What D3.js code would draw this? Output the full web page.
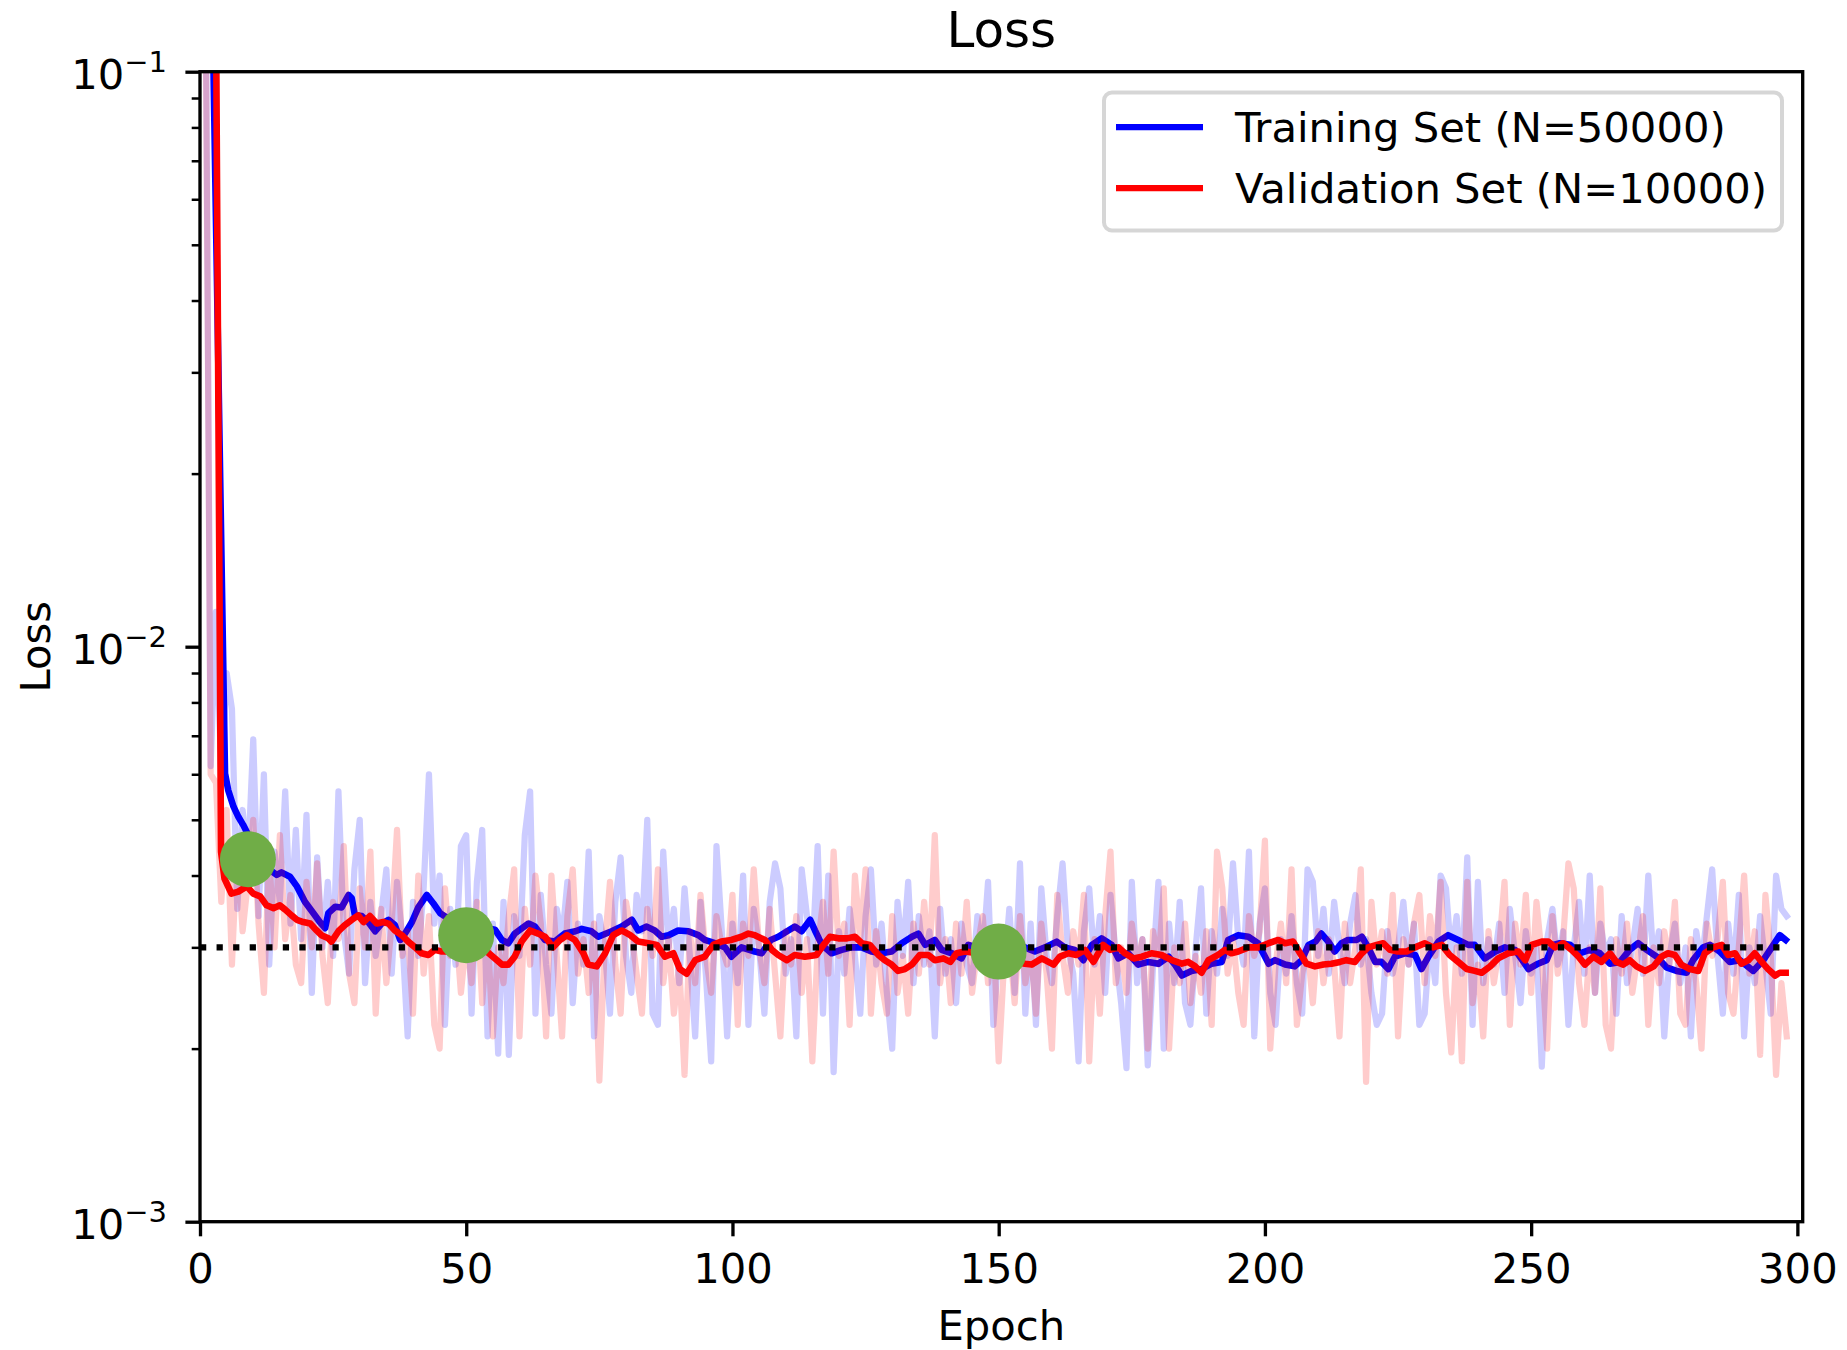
<!DOCTYPE html>
<html>
<head>
<meta charset="utf-8">
<script src="https://cdn.jsdelivr.net/npm/d3@7"></script>
<style>
  html, body { margin: 0; padding: 0; background: #fff; }
  svg { display: block; }
  text { font-family: "DejaVu Sans", sans-serif; fill: #000; }
</style>
</head>
<body>
<svg id="chart" width="1847" height="1350"></svg>
<script>
// ---- data (loss values are in units of 1e-3) ----
const trainRaw = [
  900, 180, 6.2, 11.5, 6.0, 9.0, 7.8, 3.5, 5.2, 4.2,
  6.9, 3.4, 6.0, 2.8, 4.4, 3.6, 5.6, 3.3, 4.8, 3.1,
  5.1, 2.5, 4.3, 3.0, 3.9, 2.9, 5.6, 3.2, 2.7, 4.1,
  5.0, 2.6, 3.6, 2.9, 3.4, 4.1, 2.7, 3.9, 3.1, 2.1,
  3.6, 2.9, 3.8, 6.0, 3.3, 4.0, 2.2, 3.5, 2.8, 4.5,
  4.7, 2.3, 3.9, 4.8, 2.1, 3.3, 1.96, 3.6, 1.95, 3.4,
  2.9, 4.7, 5.6, 2.3, 3.7, 2.8, 2.3, 3.5, 3.1, 3.9,
  2.4, 3.3, 2.8, 4.4, 2.1, 3.4, 3.0, 2.3, 3.6, 4.3,
  2.9, 2.5, 3.7, 3.2, 5.0, 2.3, 2.2, 4.4, 3.0, 3.5,
  2.6, 3.8, 2.9, 2.1, 3.6, 2.7, 1.9, 4.5, 3.2, 2.1,
  3.3, 2.6, 4.0, 2.2, 3.5, 3.0, 2.3, 3.6, 4.2, 3.8,
  2.7, 3.1, 2.1, 4.1, 3.4, 2.9, 4.5, 2.3, 4.0, 1.82,
  3.2, 2.7, 3.5, 2.9, 2.3, 3.4, 4.1, 2.8, 3.3, 2.5,
  2.0, 3.6, 2.9, 3.9, 2.6, 3.4, 2.8, 3.2, 2.1, 3.5,
  2.7, 3.1, 2.4, 3.3, 2.8, 2.6, 3.4, 2.9, 3.9, 2.2,
  3.0, 2.7, 3.5, 2.5, 4.2, 2.3, 3.3, 2.2, 3.8, 2.9,
  2.6, 3.4, 4.2, 3.0, 2.7, 1.9, 3.2, 3.8, 2.8, 3.4,
  2.5, 3.7, 2.9, 2.4, 1.85, 3.9, 2.6, 3.1, 1.87, 2.8,
  3.9, 2.0, 3.3, 2.6, 3.6, 2.4, 2.2, 3.0, 3.8, 2.3,
  3.2, 2.7, 3.5, 2.9, 4.2, 3.1, 2.8, 4.4, 2.1, 3.3,
  3.8, 2.5, 2.2, 3.1, 2.7, 3.4, 2.6, 2.3, 4.1, 3.9,
  2.9, 3.5, 2.7, 3.6, 3.0, 2.6, 3.3, 3.7, 2.8, 3.1,
  2.5, 2.2, 2.3, 3.2, 2.7, 3.0, 3.6, 2.8, 3.3, 2.2,
  2.3, 3.1, 2.6, 4.0, 3.8, 2.9, 3.4, 2.7, 4.3, 2.2,
  3.9, 2.6, 3.1, 2.8, 3.3, 2.5, 3.5, 2.9, 2.4, 3.2,
  2.7, 3.0, 1.86, 3.1, 3.5, 2.8, 3.2, 2.2, 3.0, 3.6,
  2.7, 4.0, 2.5, 3.3, 2.9, 3.1, 2.3, 3.4, 2.6, 3.0,
  3.5, 2.7, 4.0, 2.8, 3.2, 2.1, 2.9, 3.3, 2.6, 3.0,
  2.1, 3.2, 2.8, 3.4, 4.1, 2.9, 2.3, 3.3, 2.7, 3.7,
  2.1, 3.0, 2.6, 3.4, 2.8, 2.3, 4.0, 3.5, 3.4
];

const valRaw = [
  900, 160, 6.0, 5.8, 3.6, 5.2, 2.8, 4.6, 3.2, 3.9,
  5.0, 3.3, 2.5, 4.3, 3.0, 4.7, 3.1, 3.7, 2.8, 2.6,
  3.9, 3.0, 4.2, 2.9, 2.4, 3.6, 3.1, 4.5, 2.7, 2.4,
  3.8, 3.0, 4.4, 2.3, 3.5, 2.6, 3.3, 4.8, 2.9, 3.2,
  2.3, 4.0, 2.7, 3.4, 2.2, 2.0, 3.8, 2.9, 3.3, 2.5,
  3.1, 2.6, 3.6, 2.4, 3.2, 2.1, 3.0, 2.6, 3.4, 4.1,
  2.1, 3.5, 2.8, 4.0, 3.3, 2.1, 4.0, 2.9, 2.1, 3.4,
  4.1, 2.7, 3.1, 2.5, 3.3, 1.76, 3.0, 3.9, 2.8, 2.3,
  3.6, 3.2, 2.7, 2.3, 3.5, 2.9, 4.1, 2.6, 3.1, 2.3,
  2.8, 1.8, 3.2, 2.6, 3.7, 2.9, 2.5, 3.4, 3.0, 2.8,
  3.7, 2.2, 3.3, 2.9, 4.1, 3.0, 2.6, 3.5, 2.7, 2.1,
  3.2, 2.8, 3.4, 2.5, 3.1, 1.9, 3.0, 3.6, 2.7, 4.4,
  2.9, 3.3, 2.2, 4.0, 3.1, 4.1, 2.3, 3.2, 2.6, 2.3,
  3.4, 2.5, 2.9, 2.3, 3.3, 2.7, 3.6, 2.8, 4.7, 2.6,
  3.1, 2.4, 3.3, 2.7, 3.6, 2.5, 3.0, 3.4, 2.6, 3.2,
  1.9, 2.8, 3.1, 2.4, 3.4, 2.6, 3.0, 2.3, 3.3, 2.7,
  2.0, 3.7, 2.9, 2.5, 3.2, 2.8, 3.7, 1.9, 3.1, 2.3,
  3.4, 4.4, 2.6, 3.0, 2.5, 3.3, 2.8, 3.1, 2.0, 3.2,
  2.8, 3.8, 2.0, 3.0, 2.6, 3.3, 2.4, 2.9, 2.5, 3.2,
  2.2, 4.4, 3.8, 2.7, 3.1, 2.5, 2.2, 3.4, 2.9, 3.2,
  4.6, 2.0, 2.8, 3.3, 2.6, 4.1, 2.2, 2.7, 3.0, 2.4,
  3.2, 2.6, 3.1, 2.8, 2.1, 3.3, 2.6, 3.0, 4.1, 1.75,
  3.6, 2.8, 3.2, 2.7, 3.7, 2.1, 3.1, 2.8, 3.3, 3.7,
  2.6, 3.4, 2.9, 3.9, 2.5, 1.97, 3.0, 1.9, 3.9, 2.4,
  2.8, 2.1, 3.2, 2.6, 3.0, 3.9, 2.2, 3.3, 2.8, 3.7,
  2.5, 3.6, 2.9, 2.0, 3.4, 2.7, 3.1, 4.2, 3.8, 2.6,
  2.2, 3.0, 2.5, 3.8, 2.2, 2.0, 3.1, 2.7, 3.3, 2.5,
  2.9, 3.4, 2.2, 3.0, 2.6, 3.2, 2.8, 3.6, 2.3, 2.2,
  3.1, 2.6, 2.0, 3.3, 2.9, 3.1, 3.9, 2.5, 2.3, 3.0,
  4.0, 2.7, 3.2, 1.95, 3.7, 2.9, 1.8, 2.6, 2.1
];

// running-average curves: epoch positions and loss (1e-3)
const trainSmoothEpoch = [
  2.4, 4.7, 5.3, 6.3, 7.2, 8.1, 9, 10, 11, 12, 13, 14.4, 15.3, 16.9, 18.2, 19.7, 21.3, 22.5, 23.5, 24.1,
  25.4, 26.6, 27.9, 28.5, 29.1, 30.4, 31.6, 32.9, 34.1, 35.4, 36.6, 37.6, 38.5, 39.8, 41.0, 42.6, 43.8, 45.1, 47, 49,
  51, 53, 55.4, 56.7, 57.9, 59.1, 60.3, 61.7, 62.9, 64.8, 66.6, 68.5, 70.5, 71.7, 73.5, 74.8, 77.3, 79.2, 81.1, 82.3,
  83.9, 85.4, 86.7, 88.0, 89.8, 91.7, 93.6, 94.8, 96.7, 98.6, 99.8, 101.7, 104.2, 105.5, 107.2, 108.6, 110.5, 111.7, 113.0, 114.6,
  115.5, 116.8, 118.6, 120.5, 122.4, 124.3, 126.1, 128.0, 129.9, 131.8, 133.7, 134.9, 136.2, 138.0, 139.3, 141.2, 143.0, 144.3, 147, 150,
  152.5, 154.9, 156.8, 158.7, 160.9, 162.4, 164.3, 165.9, 167.5, 169.3, 171.2, 172.5, 174.3, 176.2, 178.1, 180.0, 181.9, 183.1, 184.4, 186.2,
  188.1, 190.0, 191.9, 193.1, 195.0, 196.9, 198.7, 200.7, 201.9, 203.8, 205.6, 206.9, 208.2, 209.5, 210.6, 211.9, 213.1, 214.4, 215.6, 217.2,
  218.2, 219.4, 220.7, 221.9, 223.2, 224.4, 226.3, 228.2, 229.4, 230.7, 232.6, 234.4, 236.3, 238.2, 239.4, 241.3, 243.3, 245.1, 247.0, 249.5,
  251.3, 252.9, 254.1, 255.4, 257.3, 259.2, 261.0, 262.9, 264.8, 266.7, 268.5, 270.1, 271.7, 273.6, 275.4, 277.3, 279.2, 280.4, 282.3, 283.6,
  285.4, 287.3, 289.2, 291.7, 293.6, 295.5, 296.7, 297.8
];
const trainSmoothLoss = [
  120, 6.02, 5.63, 5.27, 5.06, 4.90, 4.72, 4.55, 4.40, 4.25, 4.10, 4.01, 4.05, 3.98, 3.83, 3.60, 3.44, 3.32, 3.24, 3.44,
  3.53, 3.52, 3.70, 3.65, 3.41, 3.40, 3.32, 3.20, 3.30, 3.35, 3.28, 3.09, 3.17, 3.32, 3.52, 3.70, 3.58, 3.44, 3.35, 3.25,
  3.20, 3.25, 3.22, 3.09, 3.05, 3.17, 3.23, 3.30, 3.26, 3.09, 3.07, 3.17, 3.20, 3.23, 3.20, 3.13, 3.20, 3.26, 3.35, 3.21,
  3.26, 3.21, 3.13, 3.15, 3.21, 3.20, 3.15, 3.09, 3.05, 3.00, 2.89, 3.00, 2.95, 2.93, 3.09, 3.13, 3.21, 3.26, 3.20, 3.35,
  3.21, 3.03, 2.93, 2.97, 3.00, 3.00, 2.95, 2.93, 2.95, 3.05, 3.13, 3.17, 3.03, 3.09, 2.97, 2.93, 2.87, 3.03, 2.98, 2.95,
  2.97, 3.00, 2.95, 3.00, 3.07, 3.00, 2.97, 2.85, 3.03, 3.11, 3.03, 2.87, 2.93, 2.80, 2.83, 2.81, 2.89, 2.80, 2.68, 2.73,
  2.75, 2.81, 2.83, 3.09, 3.15, 3.13, 3.05, 2.81, 2.85, 2.80, 2.78, 2.85, 3.03, 3.07, 3.17, 3.07, 2.95, 3.05, 3.09, 3.09,
  3.13, 3.00, 2.83, 2.83, 2.75, 2.89, 2.93, 2.91, 2.75, 2.89, 3.07, 3.15, 3.09, 3.03, 3.03, 2.87, 2.95, 3.00, 2.97, 2.75,
  2.81, 2.85, 3.03, 3.05, 3.03, 2.93, 2.97, 2.93, 2.81, 2.83, 2.97, 3.05, 2.97, 2.89, 2.77, 2.73, 2.71, 2.85, 3.00, 3.03,
  2.95, 2.83, 2.85, 2.73, 2.85, 3.03, 3.15, 3.09
];

const valSmoothEpoch = [
  3.0, 3.95, 4.6, 5.9, 7.2, 8.8, 10.0, 11.3, 12.5, 13.8, 15.0, 16.0, 17.2, 18.2, 19.4, 20.7, 21.9, 22.8, 24.1, 24.7,
  26.0, 27.2, 28.5, 29.7, 30.7, 31.9, 33.2, 34.4, 35.4, 36.6, 37.9, 39.1, 40.4, 41.6, 42.9, 44.1, 45.4, 47.5, 50, 53.5,
  55.4, 56.7, 57.9, 59.1, 60.4, 62.0, 63.5, 64.8, 66.3, 67.6, 68.9, 70.4, 72.0, 72.9, 74.5, 76.1, 77.6, 79.2, 80.8, 82.3,
  84.2, 85.8, 87.3, 88.9, 90.1, 91.4, 93.0, 94.8, 96.4, 97.9, 99.8, 101.7, 103.0, 104.2, 106.1, 107.4, 108.6, 110.2, 111.7, 113.6,
  115.8, 117.1, 118.3, 119.9, 121.5, 123.0, 124.3, 125.8, 127.4, 128.6, 129.9, 131.1, 132.4, 133.7, 135.2, 136.8, 138.0, 139.6, 140.9, 142.1,
  143.7, 147, 150, 153, 154.9, 156.2, 158.1, 160.3, 161.5, 163.1, 164.6, 166.2, 167.8, 169.6, 170.9, 172.5, 173.7, 175.3, 176.9, 178.7,
  180.6, 182.5, 184.4, 185.6, 186.9, 188.1, 189.4, 191.2, 192.5, 193.7, 195.0, 196.9, 198.7, 200.7, 202.5, 203.8, 205.3, 206.6, 207.8, 209.4,
  211.0, 212.5, 214.1, 215.3, 216.9, 218.2, 219.4, 221.0, 222.2, 223.5, 225.0, 226.6, 228.2, 230.0, 231.6, 233.2, 234.7, 236.3, 237.9, 239.4,
  240.7, 242.3, 243.8, 245.7, 247.6, 248.9, 250.1, 252.0, 253.2, 254.5, 256.0, 257.6, 258.9, 260.1, 261.7, 263.2, 264.8, 266.0, 267.3, 268.5,
  269.8, 271.4, 273.0, 274.5, 275.7, 277.0, 278.2, 279.8, 281.4, 282.6, 284.2, 285.8, 287.0, 288.3, 289.5, 290.8, 292.0, 293.3, 294.5, 295.8,
  296.7, 297.8
];
const valSmoothLoss = [
  130, 4.4, 3.95, 3.72, 3.75, 3.83, 3.72, 3.68, 3.55, 3.51, 3.55, 3.49, 3.41, 3.35, 3.32, 3.30, 3.21, 3.15, 3.11, 3.07,
  3.20, 3.28, 3.35, 3.41, 3.32, 3.40, 3.30, 3.32, 3.30, 3.21, 3.15, 3.07, 3.00, 2.93, 2.91, 2.97, 2.95, 2.95, 2.95, 2.97,
  2.87, 2.80, 2.80, 2.89, 3.07, 3.21, 3.17, 3.13, 3.00, 3.09, 3.15, 3.09, 2.93, 2.80, 2.78, 2.93, 3.15, 3.21, 3.15, 3.07,
  3.05, 3.03, 2.89, 2.93, 2.75, 2.70, 2.85, 2.89, 3.03, 3.07, 3.09, 3.13, 3.17, 3.15, 3.09, 2.97, 2.91, 2.85, 2.91, 2.89,
  2.91, 3.03, 3.13, 3.11, 3.11, 3.13, 3.05, 3.03, 2.91, 2.85, 2.80, 2.73, 2.75, 2.80, 2.91, 2.91, 2.85, 2.87, 2.83, 2.93,
  2.95, 2.92, 2.88, 2.84, 2.81, 2.80, 2.87, 2.80, 2.89, 2.93, 2.91, 2.97, 2.83, 3.03, 2.97, 3.00, 2.93, 2.87, 2.89, 2.93,
  2.91, 2.85, 2.81, 2.83, 2.78, 2.71, 2.85, 2.91, 2.97, 2.93, 2.95, 3.00, 3.00, 3.05, 3.09, 3.05, 3.07, 2.93, 2.81, 2.78,
  2.80, 2.81, 2.83, 2.85, 2.83, 2.93, 3.00, 3.03, 3.05, 2.97, 2.95, 2.95, 3.00, 3.05, 3.00, 3.03, 2.91, 2.83, 2.75, 2.73,
  2.71, 2.78, 2.87, 2.93, 2.95, 2.85, 3.03, 3.07, 3.07, 3.00, 3.05, 2.97, 2.89, 2.80, 2.89, 2.83, 2.93, 2.83, 2.80, 2.85,
  2.78, 2.73, 2.78, 2.89, 2.93, 2.91, 2.80, 2.75, 2.73, 2.93, 3.00, 3.03, 2.91, 2.93, 2.81, 2.85, 2.93, 2.83, 2.75, 2.68,
  2.71, 2.71
];

// highlighted checkpoints
const markerEpochs = [9, 50, 150];
const markerLoss = [4.27, 3.15, 2.95];

// reference level
const refLoss = 3.0;
const refSpan = [0, 298];

const xTicks = [0, 50, 100, 150, 200, 250, 300];
const yMajorTicks = [1e-3, 1e-2, 1e-1];
const yMajorExp = [-3, -2, -1];
const yMinorTicks = [2, 3, 4, 5, 6, 7, 8, 9].flatMap(m => [m * 1e-3, m * 1e-2]);

const seriesNames = ["Training Set (N=50000)", "Validation Set (N=10000)"];
const seriesColors = ["#0000ff", "#ff0000"];

// ---- layout ----
const box = { left: 200, right: 1802.7, top: 71.7, bottom: 1221.7 };
const LW = 6.25;        // raw / dotted line width
const LW_SMOOTH = 6.6;  // running-average line width
const FS = 41.7;        // tick / label font size

const svg = d3.select("#chart");
const x = d3.scaleLinear().domain([0, 301]).range([box.left, box.right]);
const y = d3.scaleLog().domain([1e-3, 1e-1]).range([box.bottom, box.top]);

svg.append("defs").append("clipPath").attr("id", "plotClip")
  .append("rect")
  .attr("x", box.left).attr("y", box.top)
  .attr("width", box.right - box.left).attr("height", box.bottom - box.top);

const line = d3.line().x(d => x(d[0])).y(d => y(d[1]));
const toRaw = arr => arr.map((v, i) => [i, v * 1e-3]);
const toSmooth = (ep, ls) => ep.map((e, i) => [e, ls[i] * 1e-3]);

const plotG = svg.append("g").attr("clip-path", "url(#plotClip)");

function drawLine(data, color, opacity, width, dash) {
  const p = plotG.append("path").datum(data)
    .attr("d", line)
    .attr("fill", "none")
    .attr("stroke", color)
    .attr("stroke-opacity", opacity)
    .attr("stroke-width", width)
    .attr("stroke-linejoin", "round")
    .attr("stroke-linecap", dash ? "butt" : "square");
  if (dash) p.attr("stroke-dasharray", dash);
  return p;
}

drawLine(toRaw(trainRaw), seriesColors[0], 0.2, LW);
drawLine(toSmooth(trainSmoothEpoch, trainSmoothLoss), seriesColors[0], 1, LW_SMOOTH);
drawLine(toRaw(valRaw), seriesColors[1], 0.2, LW);
drawLine(toSmooth(valSmoothEpoch, valSmoothLoss), seriesColors[1], 1, LW_SMOOTH);
drawLine(refSpan.map(e => [e, refLoss * 1e-3]), "#000", 1, LW, `${LW},${(LW * 1.65).toFixed(2)}`);

plotG.selectAll("circle.mark")
  .data(markerEpochs.map((e, i) => [e, markerLoss[i] * 1e-3]))
  .enter().append("circle")
  .attr("class", "mark")
  .attr("cx", d => x(d[0]))
  .attr("cy", d => y(d[1]))
  .attr("r", 28)
  .attr("fill", "#70ad47");

// ---- axes ----
const gx = svg.append("g")
  .attr("transform", `translate(0,${box.bottom})`)
  .call(d3.axisBottom(x).tickValues(xTicks).tickSize(14.6).tickFormat(d3.format("d")));
gx.select(".domain").remove();
gx.attr("font-size", FS).attr("font-family", "DejaVu Sans");
gx.selectAll(".tick line").attr("stroke", "#000").attr("stroke-width", 3.33);
gx.selectAll(".tick text").attr("y", 61).attr("dy", 0).attr("fill", "#000");

const gyMinor = svg.append("g")
  .attr("transform", `translate(${box.left},0)`)
  .call(d3.axisLeft(y).tickValues(yMinorTicks).tickSize(8.3).tickFormat(""));
gyMinor.select(".domain").remove();
gyMinor.selectAll(".tick line").attr("stroke", "#000").attr("stroke-width", 2.5);
gyMinor.selectAll(".tick text").remove();

const gy = svg.append("g")
  .attr("transform", `translate(${box.left},0)`)
  .call(d3.axisLeft(y).tickValues(yMajorTicks).tickSize(14.6).tickFormat(""));
gy.select(".domain").remove();
gy.attr("font-size", FS).attr("font-family", "DejaVu Sans");
gy.selectAll(".tick line").attr("stroke", "#000").attr("stroke-width", 3.33);
gy.selectAll(".tick text").each(function (d, i) {
  const t = d3.select(this)
    .attr("x", -33).attr("y", 16.6).attr("dy", 0)
    .attr("text-anchor", "end").attr("fill", "#000")
    .text("10");
  t.append("tspan").attr("dy", -16.6).attr("font-size", 29).text("\u2212" + Math.abs(yMajorExp[i]));
});

// spines
svg.append("rect")
  .attr("x", box.left).attr("y", box.top)
  .attr("width", box.right - box.left).attr("height", box.bottom - box.top)
  .attr("fill", "none").attr("stroke", "#000").attr("stroke-width", 3.33);

// ---- titles ----
const midX = (box.left + box.right) / 2;
svg.append("text").attr("x", midX).attr("y", 47).attr("text-anchor", "middle")
  .attr("font-size", 50).text("Loss");
svg.append("text").attr("x", midX).attr("y", 1340).attr("text-anchor", "middle")
  .attr("font-size", FS).text("Epoch");
svg.append("text")
  .attr("transform", `translate(50,${(box.top + box.bottom) / 2}) rotate(-90)`)
  .attr("text-anchor", "middle").attr("font-size", FS).text("Loss");

// ---- legend ----
const lg = svg.append("g");
lg.append("rect")
  .attr("x", 1104).attr("y", 92.5).attr("width", 678).attr("height", 138)
  .attr("rx", 8).attr("ry", 8)
  .attr("fill", "#fff").attr("fill-opacity", 0.8)
  .attr("stroke", "#cccccc").attr("stroke-opacity", 0.8).attr("stroke-width", 4);
const rows = lg.selectAll("g.row").data(seriesNames).enter().append("g")
  .attr("class", "row")
  .attr("transform", (d, i) => `translate(0,${127 + i * 61})`);
rows.append("line")
  .attr("x1", 1116).attr("x2", 1203).attr("y1", 0).attr("y2", 0)
  .attr("stroke", (d, i) => seriesColors[i]).attr("stroke-width", LW);
rows.append("text")
  .attr("x", 1235).attr("y", 14.5)
  .attr("font-size", FS).text(d => d);
</script>
</body>
</html>
